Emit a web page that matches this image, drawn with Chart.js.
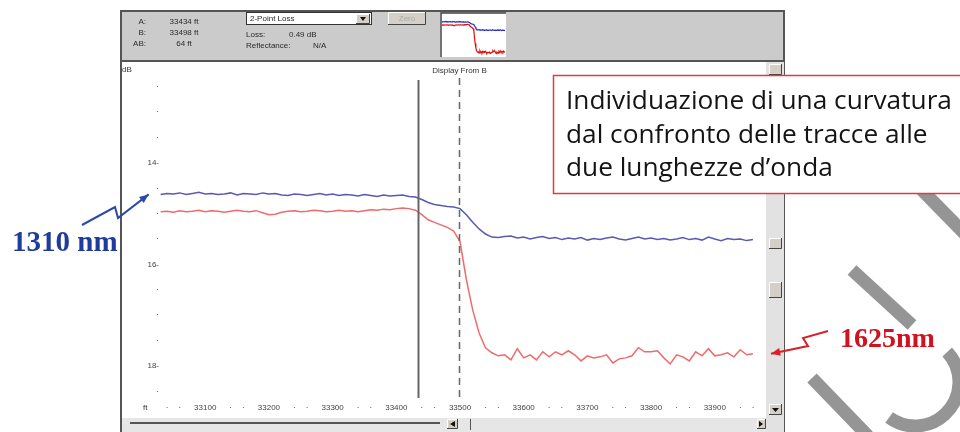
<!DOCTYPE html>
<html>
<head>
<meta charset="utf-8">
<script src="https://cdn.jsdelivr.net/npm/chart.js@4.4.1/dist/chart.umd.min.js"></script>
<style>
  html, body { margin: 0; padding: 0; background: #fff; }
  #wrap { position: relative; width: 960px; height: 432px; }
  #otdr { position: absolute; left: 0; top: 0; }
  #thumb { position: absolute; left: 442px; top: 14px; }
</style>
</head>
<body>
<div id="wrap">
  <canvas id="otdr" width="960" height="432"></canvas>
  <canvas id="thumb" width="63" height="42"></canvas>
</div>
<script>
// distance along the fibre (ft) and the two OTDR traces (dB)
const distanceFt = [
  33030, 33040, 33050, 33060, 33070, 33080, 33090, 33100, 33110, 33120,
  33130, 33140, 33150, 33160, 33170, 33180, 33190, 33200, 33210, 33220,
  33230, 33240, 33250, 33260, 33270, 33280, 33290, 33300, 33310, 33320,
  33330, 33340, 33350, 33360, 33370, 33380, 33390, 33400, 33410, 33420,
  33430, 33440, 33450, 33460, 33470, 33480, 33490, 33500,
  33510, 33520, 33530, 33540, 33550, 33560,
  33570, 33580, 33590, 33600, 33610, 33620, 33630, 33640, 33650, 33660,
  33670, 33680, 33690, 33700, 33710, 33720, 33730, 33740, 33750, 33760,
  33770, 33780, 33790, 33800, 33810, 33820, 33830, 33840, 33850, 33860,
  33870, 33880, 33890, 33900, 33910, 33920, 33930, 33940, 33950, 33960
];
const trace1310 = [
  14.62, 14.60, 14.61, 14.59, 14.62, 14.60, 14.58, 14.61, 14.60, 14.62,
  14.61, 14.59, 14.63, 14.60, 14.61, 14.62, 14.59, 14.61, 14.60, 14.63,
  14.64, 14.61, 14.62, 14.64, 14.62, 14.60, 14.63, 14.61, 14.64, 14.62,
  14.63, 14.65, 14.62, 14.64, 14.66, 14.63, 14.65, 14.64, 14.63, 14.66,
  14.67, 14.72, 14.78, 14.82, 14.84, 14.86, 14.87, 14.90,
  15.02, 15.17, 15.30, 15.40, 15.46, 15.47,
  15.45, 15.44, 15.48, 15.46, 15.50, 15.47, 15.45, 15.49, 15.47, 15.51,
  15.48, 15.50, 15.47, 15.52, 15.49, 15.51, 15.48, 15.46, 15.50, 15.52,
  15.49, 15.46, 15.50, 15.48, 15.51, 15.49, 15.52, 15.50, 15.47, 15.51,
  15.49, 15.52, 15.46, 15.50, 15.53, 15.49, 15.51, 15.50, 15.53, 15.51
];
const trace1625 = [
  14.96, 14.95, 14.97, 14.94, 14.96, 14.95, 14.93, 14.96, 14.94, 14.95,
  14.97, 14.95, 14.93, 14.95, 14.96, 14.94, 14.98, 15.02, 15.01, 14.97,
  14.95, 14.94, 14.96, 14.95, 14.93, 14.94, 14.96, 14.95, 14.93, 14.95,
  14.94, 14.96, 14.94, 14.92, 14.93, 14.91, 14.92, 14.90, 14.89, 14.90,
  14.93, 15.02, 15.12, 15.17, 15.22, 15.27, 15.34, 15.55,
  16.30, 16.90, 17.35, 17.64, 17.74, 17.80,
  17.78, 17.88, 17.66, 17.84, 17.78, 17.88, 17.72, 17.82, 17.72, 17.78,
  17.70, 17.78, 17.90, 17.80, 17.84, 17.82, 17.78, 17.94, 17.86, 17.84,
  17.80, 17.64, 17.72, 17.72, 17.70, 17.84, 17.96, 17.78, 17.82, 17.90,
  17.72, 17.80, 17.66, 17.80, 17.78, 17.74, 17.82, 17.68, 17.78, 17.76
];
// cursors A and B (ft)
const cursorFt = [33434, 33498];
const cursorInfo = ['A:', '33434 ft', 'B:', '33498 ft', 'AB:', '64 ft'];
const noteLines = ['Individuazione di una curvatura', 'dal confronto delle tracce alle', 'due lunghezze d\u2019onda'];

const BLUE = '#5a5ab2';
const RED = '#ef6b6b';
const tickFont = { family: 'Liberation Sans', size: 8 };

function pts(ys) {
  return distanceFt.map((x, i) => ({ x: x, y: ys[i] }));
}

function box3d(ctx, x, y, w, h) {
  ctx.fillStyle = '#d4d0c8';
  ctx.fillRect(x, y, w, h);
  ctx.strokeStyle = '#fff';
  ctx.lineWidth = 1;
  ctx.beginPath();
  ctx.moveTo(x + 0.5, y + h); ctx.lineTo(x + 0.5, y + 0.5); ctx.lineTo(x + w, y + 0.5);
  ctx.stroke();
  ctx.strokeStyle = '#444';
  ctx.beginPath();
  ctx.moveTo(x + w - 0.5, y); ctx.lineTo(x + w - 0.5, y + h - 0.5); ctx.lineTo(x, y + h - 0.5);
  ctx.stroke();
}

function arrow(ctx, p, color) {
  ctx.save();
  ctx.strokeStyle = color;
  ctx.fillStyle = color;
  ctx.lineWidth = 2;
  ctx.beginPath();
  ctx.moveTo(p[0][0], p[0][1]);
  for (let i = 1; i < p.length; i++) ctx.lineTo(p[i][0], p[i][1]);
  ctx.stroke();
  const a = p[p.length - 2], b = p[p.length - 1];
  const ang = Math.atan2(b[1] - a[1], b[0] - a[0]);
  ctx.beginPath();
  ctx.moveTo(b[0], b[1]);
  ctx.lineTo(b[0] - 10 * Math.cos(ang - 0.4), b[1] - 10 * Math.sin(ang - 0.4));
  ctx.lineTo(b[0] - 10 * Math.cos(ang + 0.4), b[1] - 10 * Math.sin(ang + 0.4));
  ctx.closePath();
  ctx.fill();
  ctx.restore();
}

const otdrChrome = {
  id: 'otdrChrome',
  beforeDraw(chart) {
    const ctx = chart.ctx;
    ctx.save();
    ctx.fillStyle = '#fff';
    ctx.fillRect(0, 0, 960, 432);
    // top info panel
    ctx.fillStyle = '#cbcbcb';
    ctx.fillRect(121, 11, 663, 50);
    ctx.strokeStyle = '#555';
    ctx.lineWidth = 2;
    ctx.strokeRect(121, 11, 663, 440);
    ctx.beginPath(); ctx.moveTo(121, 61); ctx.lineTo(784, 61); ctx.stroke();
    ctx.fillStyle = '#2a2a2a';
    ctx.font = '8px "Liberation Sans"';
    ctx.textBaseline = 'middle';
    for (let r = 0; r < 3; r++) {
      ctx.textAlign = 'right';
      ctx.fillText(cursorInfo[r * 2], 146, 22 + r * 11);
      ctx.textAlign = 'center';
      ctx.fillText(cursorInfo[r * 2 + 1], 184, 22 + r * 11);
    }
    ctx.textAlign = 'left';
    ctx.fillStyle = '#fff';
    ctx.fillRect(246, 12, 126, 13);
    ctx.strokeStyle = '#333';
    ctx.lineWidth = 1;
    ctx.strokeRect(246.5, 12.5, 125, 12);
    box3d(ctx, 356, 14, 14, 10);
    ctx.fillStyle = '#111';
    ctx.beginPath(); ctx.moveTo(360, 17); ctx.lineTo(366, 17); ctx.lineTo(363, 21); ctx.fill();
    ctx.fillStyle = '#2a2a2a';
    ctx.fillText('2-Point Loss', 250, 19);
    ctx.fillText('Loss:', 246, 35);
    ctx.fillText('0.49 dB', 289, 35);
    ctx.fillText('Reflectance:', 246, 46);
    ctx.fillText('N/A', 313, 46);
    box3d(ctx, 388, 12, 38, 13);
    ctx.fillStyle = '#aaa';
    ctx.textAlign = 'center';
    ctx.fillText('Zero', 407, 19);
    // overview window
    ctx.fillStyle = '#fff';
    ctx.fillRect(440, 13, 66, 44);
    ctx.strokeStyle = '#444';
    ctx.lineWidth = 1.5;
    ctx.beginPath(); ctx.moveTo(441, 57); ctx.lineTo(441, 13); ctx.lineTo(506, 13); ctx.stroke();
    // plot background
    ctx.fillStyle = '#fff';
    ctx.fillRect(122, 62, 644, 356);
    // right scrollbar
    ctx.fillStyle = '#e2e2e2';
    ctx.fillRect(766, 62, 18, 370);
    box3d(ctx, 769, 64, 13, 11);
    box3d(ctx, 769, 238, 13, 11);
    box3d(ctx, 769, 282, 13, 16);
    box3d(ctx, 769, 404, 13, 11);
    // bottom scrollbar
    ctx.fillStyle = '#e6e6e6';
    ctx.fillRect(122, 418, 644, 14);
    ctx.strokeStyle = '#555';
    ctx.lineWidth = 2;
    ctx.beginPath(); ctx.moveTo(130, 423); ctx.lineTo(440, 423); ctx.stroke();
    box3d(ctx, 447, 419, 11, 10);
    box3d(ctx, 757, 419, 9, 10);
    ctx.fillStyle = '#111';
    ctx.beginPath(); ctx.moveTo(450, 424); ctx.lineTo(455, 421); ctx.lineTo(455, 427); ctx.fill();
    ctx.beginPath(); ctx.moveTo(763, 424); ctx.lineTo(759, 421); ctx.lineTo(759, 427); ctx.fill();
    ctx.beginPath(); ctx.moveTo(772, 408); ctx.lineTo(779, 408); ctx.lineTo(775.5, 412); ctx.fill();
    ctx.strokeStyle = '#555';
    ctx.lineWidth = 1;
    ctx.beginPath(); ctx.moveTo(470.5, 419); ctx.lineTo(470.5, 430); ctx.stroke();
    // axis unit labels
    ctx.fillStyle = '#333';
    ctx.textAlign = 'left';
    ctx.fillText('dB', 122, 70);
    ctx.fillText('ft', 143, 408);
    ctx.restore();
  },
  afterDatasetsDraw(chart) {
    const ctx = chart.ctx;
    const xs = chart.scales.x;
    const xa = Math.round(xs.getPixelForValue(cursorFt[0])) + 0.5;
    const xb = Math.round(xs.getPixelForValue(cursorFt[1])) + 0.5;
    ctx.save();
    ctx.strokeStyle = '#666';
    ctx.lineWidth = 2;
    ctx.beginPath(); ctx.moveTo(xa, 80); ctx.lineTo(xa, 398); ctx.stroke();
    ctx.setLineDash([7, 5]);
    ctx.lineWidth = 1.5;
    ctx.beginPath(); ctx.moveTo(xb, 78); ctx.lineTo(xb, 402); ctx.stroke();
    ctx.setLineDash([]);
    ctx.fillStyle = '#333';
    ctx.font = '8px "Liberation Sans"';
    ctx.textAlign = 'center';
    ctx.textBaseline = 'middle';
    ctx.fillText('Display From B', xb, 71);
    ctx.restore();
  },
  afterDraw(chart) {
    const ctx = chart.ctx;
    const xs = chart.scales.x, ys = chart.scales.y;
    const n = distanceFt.length - 1;
    ctx.save();
    // grey watermark strokes (behind the labels)
    ctx.strokeStyle = 'rgba(140,140,140,0.92)';
    ctx.lineWidth = 13;
    ctx.beginPath(); ctx.moveTo(915, 183); ctx.lineTo(965, 234); ctx.stroke();
    ctx.beginPath(); ctx.moveTo(852, 270); ctx.lineTo(912, 325); ctx.stroke();
    ctx.beginPath(); ctx.arc(915, 382, 44, -0.75, 2.2); ctx.stroke();
    ctx.beginPath(); ctx.moveTo(812, 378); ctx.lineTo(868, 436); ctx.stroke();
    // note box
    ctx.fillStyle = '#fff';
    ctx.fillRect(553, 75, 410, 118);
    ctx.strokeStyle = '#e23a3a';
    ctx.lineWidth = 1.5;
    ctx.strokeRect(553.5, 75.5, 410, 118);
    ctx.font = '23px "Open Sans"';
    const w = ctx.measureText(noteLines[0]).width;
    const fs = 23 * 386 / w;
    ctx.font = fs.toFixed(2) + 'px "Open Sans"';
    ctx.fillStyle = '#141414';
    ctx.textAlign = 'left';
    ctx.textBaseline = 'alphabetic';
    noteLines.forEach((t, i) => ctx.fillText(t, 566, 109 + i * 33.5));
    // wavelength labels with arrows
    ctx.font = 'bold 29px "Liberation Serif"';
    ctx.fillStyle = '#1f3c9c';
    ctx.fillText('1310 nm', 12, 251);
    const bx = xs.getPixelForValue(distanceFt[0]) - 12, by = ys.getPixelForValue(trace1310[0]);
    arrow(ctx, [[82, 225], [115, 207], [118, 218], [bx, by]], '#2b4aa6');
    ctx.font = 'bold 28px "Liberation Serif"';
    ctx.fillStyle = '#d0121e';
    ctx.fillText('1625nm', 840, 347);
    const rx = xs.getPixelForValue(distanceFt[n]) + 18, ry = ys.getPixelForValue(trace1625[n]);
    arrow(ctx, [[828, 331], [803, 338], [808, 346], [rx, ry]], '#d8202a');
    ctx.restore();
  }
};

new Chart(document.getElementById('otdr').getContext('2d'), {
  type: 'line',
  data: {
    datasets: [
      { label: '1310 nm', data: pts(trace1310), borderColor: BLUE, borderWidth: 1.5, pointRadius: 0, tension: 0 },
      { label: '1625 nm', data: pts(trace1625), borderColor: RED, borderWidth: 1.5, pointRadius: 0, tension: 0 }
    ]
  },
  options: {
    responsive: false,
    animation: false,
    layout: { padding: { left: 120, right: 200, top: 67, bottom: 12 } },
    plugins: { legend: { display: false }, tooltip: { enabled: false } },
    scales: {
      x: {
        type: 'linear', min: 33029, max: 33971,
        grid: { display: false, drawTicks: false }, border: { display: false },
        afterFit: s => { s.height = 20; },
        ticks: {
          stepSize: 20, includeBounds: false, autoSkip: false, maxRotation: 0, padding: 3,
          color: '#444', font: tickFont,
          callback: v => (v % 100 === 0 ? String(v) : (v % 100 === 40 || v % 100 === 60) ? '\u00b7' : '')
        }
      },
      y: {
        type: 'linear', reverse: true, min: 12.11, max: 18.67,
        grid: { display: false, drawTicks: false }, border: { display: false },
        afterFit: s => { s.width = 40; },
        ticks: {
          stepSize: 0.5, includeBounds: false, padding: 1,
          color: '#444', font: tickFont,
          callback: v => (v % 2 === 0 ? v + '-' : '\u00b7')
        }
      }
    }
  },
  plugins: [otdrChrome]
});

// overview trace in the small window of the panel
new Chart(document.getElementById('thumb').getContext('2d'), {
  type: 'line',
  data: {
    datasets: [
      { data: pts(trace1310), borderColor: '#3030c0', borderWidth: 1.2, pointRadius: 0 },
      { data: pts(trace1625), borderColor: '#e01010', borderWidth: 1.2, pointRadius: 0 }
    ]
  },
  options: {
    responsive: false,
    animation: false,
    layout: { padding: 0 },
    plugins: { legend: { display: false }, tooltip: { enabled: false } },
    scales: {
      x: { type: 'linear', display: false, min: 33030, max: 33960 },
      y: { display: false, reverse: true, min: 13.8, max: 18.2 }
    }
  }
});
</script>
</body>
</html>
